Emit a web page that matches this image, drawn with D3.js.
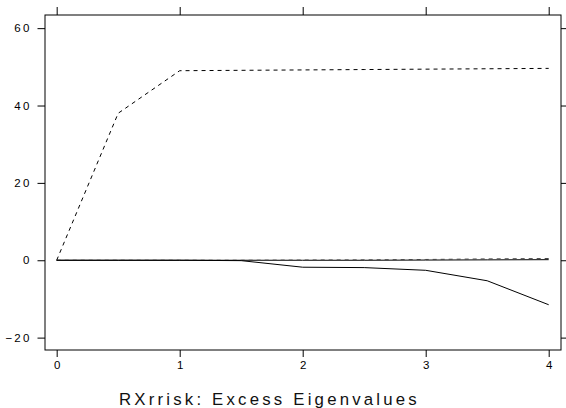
<!DOCTYPE html>
<html>
<head>
<meta charset="utf-8">
<script src="https://cdn.jsdelivr.net/npm/d3@7/dist/d3.min.js"></script>
<style>
  html, body { margin: 0; padding: 0; background: #fff; }
  svg { display: block; }
  .tick text { font-family: "Liberation Sans", Arial, sans-serif; font-size: 11.5px; letter-spacing: 2.2px; fill: #000; }
</style>
</head>
<body>
<svg id="chart" width="566" height="408"></svg>
<script>
// Step positions along the horizontal axis
const steps = [0, 0.5, 1, 1.5, 2, 2.5, 3, 3.5, 4];

// Excess eigenvalue traces, one value per step
const firstEigen  = [0, 38.0, 49.0, 49.1, 49.2, 49.3, 49.4, 49.5, 49.6];
const lastEigen   = [0, 0, 0, -0.1, -1.8, -1.9, -2.6, -5.3, -11.5];
const secondEigen = [0, 0, 0, 0, 0, 0, 0.05, 0.1, 0.15];
const thirdEigen  = [0, 0, 0, 0, 0.05, 0.1, 0.2, 0.35, 0.45];

const xTicks = [0, 1, 2, 3, 4];
const yTicks = [-20, 0, 20, 40, 60];
const title = "RXrrisk: Excess Eigenvalues";

const svg = d3.select("#chart");
const box = { left: 45, right: 561, top: 15, bottom: 350 };

const x = d3.scaleLinear().domain([-0.095, 4.1]).range([box.left, box.right]);
const y = d3.scaleLinear().domain([-23.2, 63.4]).range([box.bottom, box.top]);

// Panel frame
svg.append("rect")
  .attr("x", box.left).attr("y", box.top)
  .attr("width", box.right - box.left).attr("height", box.bottom - box.top)
  .attr("fill", "none").attr("stroke", "#000").attr("stroke-width", 1);

// Axes: labelled on the bottom/left, bare ticks on the top/right
const axisStyle = g => {
  g.select(".domain").remove();
  g.selectAll(".tick line").attr("stroke", "#000").attr("stroke-width", 1);
};
svg.append("g").attr("transform", `translate(0,${box.bottom})`)
  .call(d3.axisBottom(x).tickValues(xTicks).tickSize(7).tickPadding(4).tickFormat(d3.format("d")))
  .call(axisStyle)
  .selectAll("text").attr("dx", "1.1px");
svg.append("g").attr("transform", `translate(0,${box.top})`)
  .call(d3.axisTop(x).tickValues(xTicks).tickSize(8).tickFormat(""))
  .call(axisStyle);
svg.append("g").attr("transform", `translate(${box.left},0)`)
  .call(d3.axisLeft(y).tickValues(yTicks).tickSize(7.5).tickPadding(6).tickFormat(d3.format("d")))
  .call(axisStyle);
svg.append("g").attr("transform", `translate(${box.right},0)`)
  .call(d3.axisRight(y).tickValues(yTicks).tickSize(7).tickFormat(""))
  .call(axisStyle);

const line = d3.line().x((d, i) => x(steps[i])).y(d => y(d));

const traces = [
  { values: secondEigen, dash: null,  color: "#000" },
  { values: thirdEigen,  dash: "4,4", color: "#444" },
  { values: lastEigen,   dash: null,  color: "#000" },
  { values: firstEigen,  dash: "4,4", color: "#000" }
];

svg.append("g").selectAll("path").data(traces).join("path")
  .attr("d", d => line(d.values))
  .attr("fill", "none")
  .attr("stroke", d => d.color)
  .attr("stroke-width", 1)
  .attr("stroke-dasharray", d => d.dash);

svg.append("text")
  .attr("x", 119).attr("y", 405)
  .attr("font-family", "'Liberation Sans', Arial, sans-serif")
  .attr("font-size", 16.8)
  .attr("letter-spacing", 3.2)
  .attr("fill", "#111")
  .text(title);
</script>
</body>
</html>
